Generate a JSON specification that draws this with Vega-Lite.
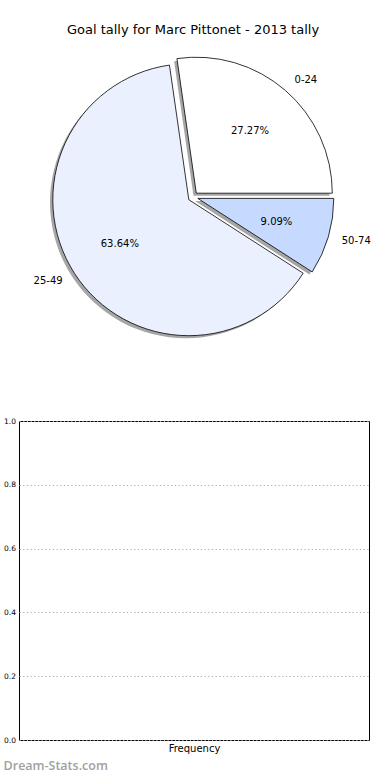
{
  "$schema": "https://vega.github.io/schema/vega-lite/v6.json",
  "background": "white",
  "padding": {"left": 3, "top": 24, "right": 5, "bottom": 2},
  "config": {"font": "DejaVu Sans", "view": {"stroke": null}},
  "data": {"values": [
    {"range": "0-24", "goals": 3, "share": 0.2727},
    {"range": "25-49", "goals": 7, "share": 0.6364},
    {"range": "50-74", "goals": 1, "share": 0.0909}
  ]},
  "bounds": "flush",
  "spacing": 74,
  "vconcat": [
    {
      "width": 348,
      "height": 300,
      "title": {"text": "Goal tally for Marc Pittonet - 2013 tally", "fontSize": 13, "fontWeight": "normal", "color": "black", "offset": 10},
      "encoding": {
        "theta": {"field": "goals", "type": "quantitative", "stack": true, "scale": {"domain": [0, 11], "range": [1.5708, -4.7124]}},
        "order": {"field": "range", "type": "ordinal", "sort": "ascending"}
      },
      "layer": [
        {"mark": {"type": "arc", "radius": 136, "fill": "#4d4d4d", "xOffset": 0.5, "yOffset": -1.2},
         "encoding": {"opacity": {"condition": {"test": "datum.range === '0-24'", "value": 0.5}, "value": 0}}},
        {"mark": {"type": "arc", "radius": 136, "fill": "#4d4d4d", "xOffset": -7.0, "yOffset": 5.3},
         "encoding": {"opacity": {"condition": {"test": "datum.range === '25-49'", "value": 0.5}, "value": 0}}},
        {"mark": {"type": "arc", "radius": 136, "fill": "#4d4d4d", "xOffset": 2.0, "yOffset": 4.0},
         "encoding": {"opacity": {"condition": {"test": "datum.range === '50-74'", "value": 0.5}, "value": 0}}},
        {"mark": {"type": "arc", "radius": 136, "stroke": "black", "strokeWidth": 0.8, "xOffset": 3.3, "yOffset": -3.8},
         "encoding": {
           "color": {"field": "range", "type": "nominal", "scale": {"domain": ["0-24", "25-49", "50-74"], "range": ["#ffffff", "#eaf0fe", "#c6d9fe"]}, "legend": null},
           "opacity": {"condition": {"test": "datum.range === '0-24'", "value": 1}, "value": 0}}},
        {"mark": {"type": "arc", "radius": 136, "stroke": "black", "strokeWidth": 0.8, "xOffset": -4.2, "yOffset": 2.7},
         "encoding": {
           "color": {"field": "range", "type": "nominal", "scale": {"domain": ["0-24", "25-49", "50-74"], "range": ["#ffffff", "#eaf0fe", "#c6d9fe"]}, "legend": null},
           "opacity": {"condition": {"test": "datum.range === '25-49'", "value": 1}, "value": 0}}},
        {"mark": {"type": "arc", "radius": 136, "stroke": "black", "strokeWidth": 0.8, "xOffset": 4.8, "yOffset": 1.4},
         "encoding": {
           "color": {"field": "range", "type": "nominal", "scale": {"domain": ["0-24", "25-49", "50-74"], "range": ["#ffffff", "#eaf0fe", "#c6d9fe"]}, "legend": null},
           "opacity": {"condition": {"test": "datum.range === '50-74'", "value": 1}, "value": 0}}},
        {"mark": {"type": "text", "radius": 150, "fontSize": 10, "align": "left", "baseline": "middle", "color": "black", "xOffset": 3.3, "yOffset": -3.8},
         "encoding": {"text": {"field": "range"}, "opacity": {"condition": {"test": "datum.range === '0-24'", "value": 1}, "value": 0}}},
        {"mark": {"type": "text", "radius": 150, "fontSize": 10, "align": "right", "baseline": "middle", "color": "black", "xOffset": -4.2, "yOffset": 2.7},
         "encoding": {"text": {"field": "range"}, "opacity": {"condition": {"test": "datum.range === '25-49'", "value": 1}, "value": 0}}},
        {"mark": {"type": "text", "radius": 150, "fontSize": 10, "align": "left", "baseline": "middle", "color": "black", "xOffset": 4.8, "yOffset": 1.4},
         "encoding": {"text": {"field": "range"}, "opacity": {"condition": {"test": "datum.range === '50-74'", "value": 1}, "value": 0}}},
        {"mark": {"type": "text", "radius": 82, "fontSize": 10, "align": "center", "baseline": "middle", "color": "black", "xOffset": 3.3, "yOffset": -3.8},
         "encoding": {"text": {"field": "share", "format": ".2%"}, "opacity": {"condition": {"test": "datum.range === '0-24'", "value": 1}, "value": 0}}},
        {"mark": {"type": "text", "radius": 82, "fontSize": 10, "align": "center", "baseline": "middle", "color": "black", "xOffset": -4.2, "yOffset": 2.7},
         "encoding": {"text": {"field": "share", "format": ".2%"}, "opacity": {"condition": {"test": "datum.range === '25-49'", "value": 1}, "value": 0}}},
        {"mark": {"type": "text", "radius": 82, "fontSize": 10, "align": "center", "baseline": "middle", "color": "black", "xOffset": 4.8, "yOffset": 1.4},
         "encoding": {"text": {"field": "share", "format": ".2%"}, "opacity": {"condition": {"test": "datum.range === '50-74'", "value": 1}, "value": 0}}}
      ]
    },
    {
      "width": 350,
      "height": 319,
      "data": {"values": []},
      "view": {"stroke": "black", "strokeWidth": 1},
      "title": {"text": "Dream-Stats.com", "orient": "bottom", "anchor": "start", "frame": "bounds", "font": "Open Sans", "fontSize": 12.5, "fontWeight": 600, "color": "#a0a0a0", "offset": 7},
      "mark": {"type": "point", "opacity": 0},
      "encoding": {
        "x": {"field": "frequency", "type": "quantitative", "scale": {"domain": [0, 1]},
              "axis": {"title": "Frequency", "labels": false, "ticks": false, "domain": false, "grid": false, "titleFontSize": 10, "titleFontWeight": "normal", "titleColor": "black", "titlePadding": 3}},
        "y": {"field": "value", "type": "quantitative", "scale": {"domain": [0, 1]},
              "axis": {"title": null, "values": [0, 0.2, 0.4, 0.6, 0.8, 1], "format": ".1f", "labelFontSize": 7.5, "labelColor": "#000000", "ticks": false, "domain": false, "labelPadding": 3.5, "grid": true, "gridDash": [1.2, 2.5], "gridColor": "#aaaaaa", "gridWidth": 1}}
      }
    }
  ]
}
